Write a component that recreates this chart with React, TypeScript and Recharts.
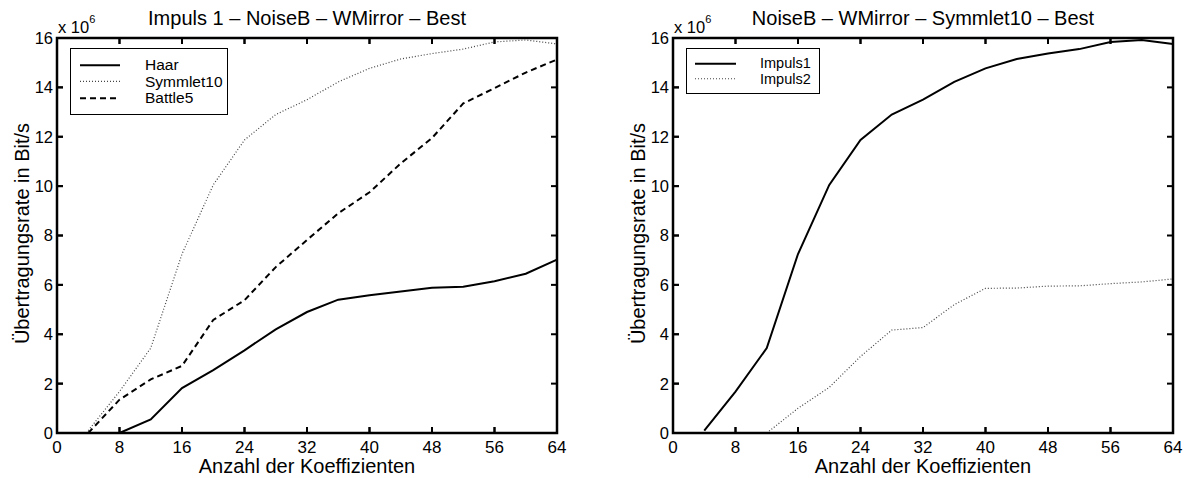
import { LineChart, Line, XAxis, YAxis, Legend, ReferenceArea, ReferenceLine } from "recharts";

// Koeffizienten-Anzahl (x) und Übertragungsrate in 10^6 Bit/s (y)
const COEFFS = [4, 8, 12, 16, 20, 24, 28, 32, 36, 40, 44, 48, 52, 56, 60, 64];

const HAAR = [0, 0, 0.55, 1.82, 2.55, 3.35, 4.2, 4.9, 5.4, 5.58, 5.73, 5.88, 5.92, 6.15, 6.45, 7.02];
const SYMMLET10 = [0.1, 1.68, 3.44, 7.25, 10.05, 11.87, 12.9, 13.5, 14.22, 14.77, 15.15, 15.37, 15.55, 15.84, 15.92, 15.76];
const BATTLE5 = [0, 1.35, 2.17, 2.72, 4.58, 5.38, 6.72, 7.82, 8.9, 9.75, 10.92, 11.95, 13.35, 13.97, 14.6, 15.13];

const IMPULS1 = [0.1, 1.68, 3.44, 7.25, 10.05, 11.87, 12.9, 13.5, 14.22, 14.77, 15.15, 15.37, 15.55, 15.84, 15.92, 15.76];
const IMPULS2 = [null, null, 0, 1.0, 1.85, 3.1, 4.17, 4.27, 5.2, 5.86, 5.87, 5.95, 5.96, 6.05, 6.12, 6.24];

const X_TICKS = [0, 8, 16, 24, 32, 40, 48, 56, 64];
const Y_TICKS = [0, 2, 4, 6, 8, 10, 12, 14, 16];
const X_DOMAIN: [number, number] = [0, 64];
const Y_DOMAIN: [number, number] = [0, 16];

const X_TITLE = "Anzahl der Koeffizienten";
const Y_TITLE = "Übertragungsrate in Bit/s";

const FONT = '"Liberation Sans", Arial, Helvetica, sans-serif';

// inward tick marks: pixel size for the axis renderers, axis units for the reference segments
const TICK_LEN = 6;
const TICK_W = 2;
const X_TICK_LEN = 0.77;
const Y_TICK_LEN = 0.24;

type Series = {
  key: string;
  name: string;
  values: (number | null)[];
  stroke: string;
  width: number;
  dash?: string;
};

const SOLID = { stroke: "#000", width: 2 };
const DOTTED = { stroke: "#444", width: 1.2, dash: "1 2" };
const DASHED = { stroke: "#000", width: 2, dash: "6 4" };

const LEFT_SERIES: Series[] = [
  { key: "haar", name: "Haar", values: HAAR, ...SOLID },
  { key: "symmlet10", name: "Symmlet10", values: SYMMLET10, ...DOTTED },
  { key: "battle5", name: "Battle5", values: BATTLE5, ...DASHED },
];

const RIGHT_SERIES: Series[] = [
  { key: "impuls1", name: "Impuls1", values: IMPULS1, ...SOLID },
  { key: "impuls2", name: "Impuls2", values: IMPULS2, ...DOTTED },
];

function buildRows(series: Series[]) {
  return COEFFS.map((c, i) => {
    const row: Record<string, number | null> = { n: c };
    series.forEach((s) => {
      row[s.key] = s.values[i];
    });
    return row;
  });
}

function BottomTick({ x, y, payload }: any) {
  return (
    <g>
      <rect x={x - TICK_W / 2} y={y - TICK_LEN} width={TICK_W} height={TICK_LEN} fill="#000" />
      <text x={x} y={y + 20} textAnchor="middle" fontSize={17} fill="#000" fontFamily={FONT}>
        {payload.value}
      </text>
    </g>
  );
}

function LeftTick({ x, y, payload }: any) {
  return (
    <g>
      <rect x={x} y={y - TICK_W / 2} width={TICK_LEN} height={TICK_W} fill="#000" />
      <text x={x - 4} y={y} dy="0.36em" textAnchor="end" fontSize={16.5} fill="#000" fontFamily={FONT}>
        {payload.value}
      </text>
    </g>
  );
}

function RightTick({ x, y }: any) {
  return (
    <g>
      <rect x={x - TICK_LEN} y={y - TICK_W / 2} width={TICK_LEN} height={TICK_W} fill="#000" />
    </g>
  );
}

function TopTick({ x, y }: any) {
  return (
    <g>
      <rect x={x - TICK_W / 2} y={y} width={TICK_W} height={TICK_LEN} fill="#000" />
    </g>
  );
}

type LegendLayout = {
  left: number;
  top: number;
  width: number;
  rowHeight: number;
  padY: number;
  padX: number;
  sample: number;
  gap: number;
  fontSize: number;
};

function LegendBox({ payload, series, layout }: any) {
  const lay = layout as LegendLayout;
  const shown = new Set((payload ?? []).map((e: any) => e.dataKey));
  return (
    <div
      style={{
        width: lay.width,
        boxSizing: "border-box",
        border: "1px solid #000",
        background: "#fff",
        padding: `${lay.padY}px 0`,
        fontFamily: FONT,
        fontSize: lay.fontSize,
        color: "#000",
      }}
    >
      {(series as Series[])
        .filter((s) => shown.has(s.key))
        .map((s) => (
          <div
            key={s.key}
            style={{ display: "flex", alignItems: "center", height: lay.rowHeight, lineHeight: 1 }}
          >
            <svg width={lay.sample} height={lay.rowHeight} style={{ marginLeft: lay.padX, flex: "none" }}>
              <line
                x1={0}
                x2={lay.sample}
                y1={lay.rowHeight / 2}
                y2={lay.rowHeight / 2}
                stroke={s.stroke}
                strokeWidth={s.width}
                strokeDasharray={s.dash}
              />
            </svg>
            <span style={{ marginLeft: lay.gap }}>{s.name}</span>
          </div>
        ))}
    </div>
  );
}

type PanelProps = {
  title: string;
  series: Series[];
  left: number;
  width: number;
  margin: { top: number; right: number; bottom: number; left: number };
  legend: LegendLayout;
};

const AXIS_LINE = { stroke: "#000", strokeWidth: 2 };
const TICK_STYLE = { stroke: "#000", strokeWidth: 2, ifOverflow: "visible" as const };

function Panel({ title, series, left, width, margin, legend }: PanelProps) {
  const rows = buildRows(series);

  // title and the "x 10^6" exponent, placed relative to the plot box
  const boxLabel = (props: any) => {
    const vb = props.viewBox ?? {};
    return (
      <g fontFamily={FONT} fill="#000">
        <text x={vb.x + vb.width / 2} y={vb.y - 13.5} textAnchor="middle" fontSize={20}>
          {title}
        </text>
        <text x={vb.x + 1} y={vb.y - 5} fontSize={16.5}>
          x 10
          <tspan dy={-10.5} fontSize={11}>
            6
          </tspan>
        </text>
      </g>
    );
  };

  const bottomLabel = (props: any) => {
    const vb = props.viewBox ?? {};
    return (
      <text
        x={vb.x + vb.width / 2}
        y={vb.y + 40}
        textAnchor="middle"
        fontSize={20}
        fontFamily={FONT}
        fill="#000"
      >
        {X_TITLE}
      </text>
    );
  };

  const leftLabel = (props: any) => {
    const vb = props.viewBox ?? {};
    const cx = vb.x + vb.width - 28.5;
    const cy = vb.y + vb.height / 2 - 2;
    return (
      <text
        x={cx}
        y={cy}
        transform={`rotate(-90 ${cx} ${cy})`}
        textAnchor="middle"
        fontSize={20}
        fontFamily={FONT}
        fill="#000"
      >
        {Y_TITLE}
      </text>
    );
  };

  const [x0, x1] = X_DOMAIN;
  const [y0, y1] = Y_DOMAIN;

  return (
    <div style={{ position: "absolute", left, top: 0 }}>
      <LineChart width={width} height={478} data={rows} margin={margin}>
        <XAxis
          xAxisId="b"
          dataKey="n"
          type="number"
          domain={X_DOMAIN}
          ticks={X_TICKS}
          height={30}
          tickSize={0}
          tickMargin={0}
          tickLine={false}
          axisLine={AXIS_LINE}
          tick={(p: any) => <BottomTick {...p} />}
          label={bottomLabel}
        />
        <XAxis
          xAxisId="t"
          orientation="top"
          dataKey="n"
          type="number"
          domain={X_DOMAIN}
          ticks={X_TICKS}
          height={1}
          tickSize={0}
          tickMargin={0}
          tickLine={false}
          axisLine={AXIS_LINE}
          tick={(p: any) => <TopTick {...p} />}
        />
        <YAxis
          yAxisId="l"
          type="number"
          domain={Y_DOMAIN}
          ticks={Y_TICKS}
          width={30}
          tickSize={0}
          tickMargin={0}
          tickLine={false}
          axisLine={AXIS_LINE}
          tick={(p: any) => <LeftTick {...p} />}
          label={leftLabel}
        />
        <YAxis
          yAxisId="r"
          orientation="right"
          type="number"
          domain={Y_DOMAIN}
          ticks={Y_TICKS}
          width={1}
          tickSize={0}
          tickMargin={0}
          tickLine={false}
          axisLine={AXIS_LINE}
          tick={(p: any) => <RightTick {...p} />}
        />
        {/* plot box frame, also carries the title */}
        <ReferenceArea
          xAxisId="b"
          yAxisId="l"
          x1={x0}
          x2={x1}
          y1={y0}
          y2={y1}
          fill="none"
          fillOpacity={0}
          stroke="#000"
          strokeWidth={2.5}
          strokeOpacity={1}
          ifOverflow="visible"
          label={boxLabel}
        />
        {/* inward tick marks along the four sides of the box */}
        {X_TICKS.map((t) => (
          <ReferenceLine
            key={`xb${t}`}
            xAxisId="b"
            yAxisId="l"
            segment={[{ x: t, y: y0 }, { x: t, y: y0 + Y_TICK_LEN }]}
            {...TICK_STYLE}
          />
        ))}
        {X_TICKS.map((t) => (
          <ReferenceLine
            key={`xt${t}`}
            xAxisId="b"
            yAxisId="l"
            segment={[{ x: t, y: y1 }, { x: t, y: y1 - Y_TICK_LEN }]}
            {...TICK_STYLE}
          />
        ))}
        {Y_TICKS.map((t) => (
          <ReferenceLine
            key={`yl${t}`}
            xAxisId="b"
            yAxisId="l"
            segment={[{ x: x0, y: t }, { x: x0 + X_TICK_LEN, y: t }]}
            {...TICK_STYLE}
          />
        ))}
        {Y_TICKS.map((t) => (
          <ReferenceLine
            key={`yr${t}`}
            xAxisId="b"
            yAxisId="l"
            segment={[{ x: x1, y: t }, { x: x1 - X_TICK_LEN, y: t }]}
            {...TICK_STYLE}
          />
        ))}
        {series.map((s) => (
          <Line
            key={s.key}
            xAxisId="b"
            yAxisId="l"
            type="linear"
            dataKey={s.key}
            name={s.name}
            stroke={s.stroke}
            strokeWidth={s.width}
            strokeDasharray={s.dash}
            dot={false}
            activeDot={false}
            isAnimationActive={false}
          />
        ))}
        <Legend
          layout="vertical"
          align="center"
          verticalAlign="middle"
          wrapperStyle={{ left: legend.left, top: legend.top, width: legend.width, height: "auto" }}
          content={(p: any) => <LegendBox payload={p.payload} series={series} layout={legend} />}
        />
      </LineChart>
    </div>
  );
}

export default function App() {
  return (
    <div
      style={{
        position: "absolute",
        left: 0,
        top: 0,
        width: 1191,
        height: 478,
        background: "#fff",
        overflow: "hidden",
      }}
    >
      <Panel
        title="Impuls 1 – NoiseB – WMirror – Best"
        series={LEFT_SERIES}
        left={0}
        width={600}
        margin={{ top: 37, right: 42, bottom: 15, left: 27 }}
        legend={{ left: 70, top: 48, width: 158, rowHeight: 16.7, padY: 7.5, padX: 9, sample: 40, gap: 25, fontSize: 15.5 }}
      />
      <Panel
        title="NoiseB – WMirror – Symmlet10 – Best"
        series={RIGHT_SERIES}
        left={600}
        width={591}
        margin={{ top: 37, right: 17, bottom: 15, left: 43 }}
        legend={{ left: 86, top: 48, width: 134, rowHeight: 15.5, padY: 6.5, padX: 8, sample: 41, gap: 24, fontSize: 14.5 }}
      />
    </div>
  );
}
